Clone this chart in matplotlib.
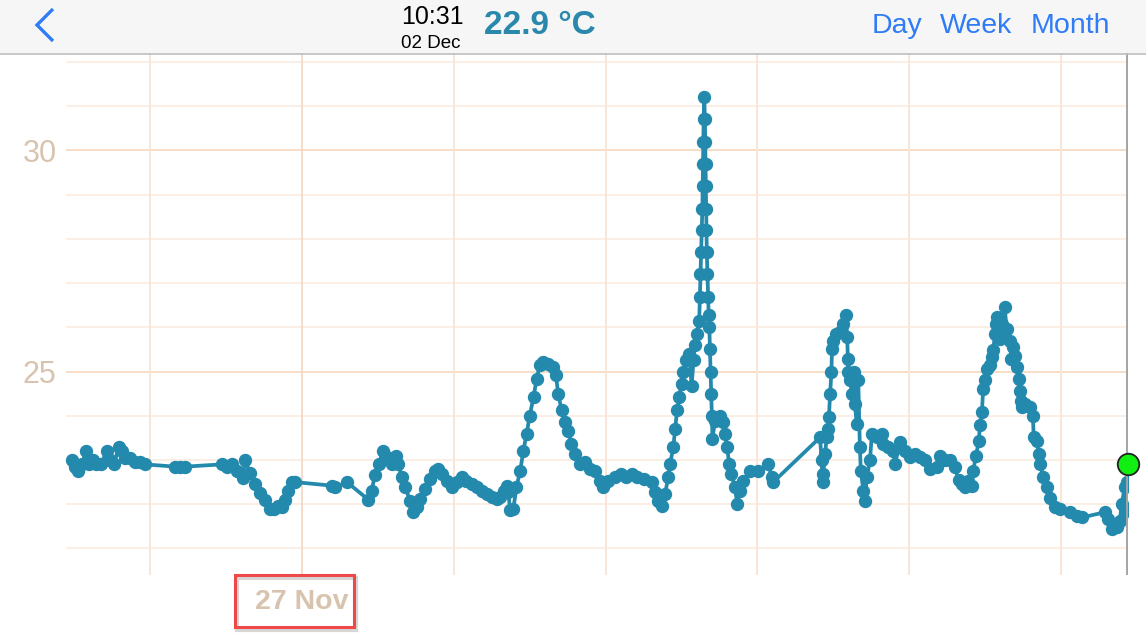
import matplotlib
matplotlib.use('Agg')
import matplotlib.pyplot as plt
from matplotlib.patches import Rectangle
from matplotlib.lines import Line2D

# hours since 25 Nov 00:00, temperature in degC
hours = [
    11.6, 12.1, 12.6, 13.2, 13.85, 14.3, 15.0, 15.5, 16.2, 17.1, 17.6, 18.3, 19.0, 19.5, 20.0,
    20.8, 21.6, 22.4, 23.2, 27.9, 28.7, 29.5, 35.3, 36.1, 36.9, 37.7, 38.6, 39.0, 39.8, 40.6,
    41.4, 42.1, 42.9, 43.5, 44.25, 44.9, 45.3, 45.8, 46.4, 46.9, 52.7, 53.2, 55.1, 58.5, 59.0,
    59.5, 60.1, 60.85, 61.5, 62.2, 62.9, 63.2, 63.8, 64.3, 65.1, 65.6, 66.1, 66.65, 67.4, 68.2,
    69.0, 69.55, 70.1, 70.9, 71.7, 72.45, 73.25, 74.0, 74.8, 75.6, 76.4, 77.2, 78.0, 78.8, 79.3,
    79.9, 80.45, 80.6, 80.9, 81.4, 81.9, 82.5, 83.0, 83.5, 84.0, 84.6, 85.1, 85.6, 86.15, 86.9,
    87.7, 88.15, 88.5, 89.05, 89.6, 90.1, 90.6, 91.2, 91.95, 92.7, 93.5, 94.3, 95.1, 95.6, 96.4,
    97.5, 98.5, 99.3, 100.1, 100.9, 102.0, 103.3, 103.8, 104.3, 104.9, 105.4, 105.9, 106.2, 106.7,
    107.0, 107.3, 107.65, 108.0, 108.3, 108.7, 109.2, 109.6, 109.9, 110.1, 110.4, 110.8, 110.9,
    111.0, 111.1, 111.2, 111.3, 111.35, 111.4, 111.45, 111.5, 111.6, 111.7, 111.75, 111.8, 111.85,
    111.9, 111.95, 112.0, 112.1, 112.2, 112.3, 112.4, 112.5, 112.6, 112.7, 112.8, 112.9, 113.3,
    114.1, 114.6, 114.9, 115.2, 115.55, 115.9, 116.45, 116.8, 117.25, 117.8, 118.8, 120.1, 121.7,
    122.3, 122.5, 129.9, 130.15, 130.3, 130.4, 130.7, 130.95, 131.2, 131.3, 131.5, 131.7, 131.8,
    132.0, 132.5, 133.05, 133.6, 134.0, 134.2, 134.3, 134.4, 134.7, 134.9, 135.2, 135.4, 135.7,
    135.95, 136.2, 136.35, 136.75, 137.0, 137.3, 137.8, 138.1, 138.85, 139.65, 139.9, 140.7, 141.5,
    141.75, 142.55, 143.3, 144.1, 144.9, 145.7, 146.5, 147.3, 148.35, 148.9, 149.65, 150.45, 151.2,
    151.8, 152.3, 152.8, 153.3, 153.9, 154.1, 154.6, 155.0, 155.2, 155.5, 155.7, 156.0, 156.25,
    156.8, 157.05, 157.3, 157.55, 157.8, 157.9, 158.35, 158.6, 159.1, 159.4, 159.9, 160.15, 160.4,
    160.7, 161.0, 161.3, 161.5, 161.7, 161.9, 162.3, 163.1, 163.55, 163.7, 164.2, 164.5, 164.7,
    165.2, 165.8, 166.3, 167.1, 167.9, 169.4, 170.5, 171.3, 174.95, 175.5, 176.0, 176.8, 177.3,
    177.6, 178.1, 178.3, 178.45,
]
temps = [
    23.0, 22.85, 22.75, 22.9, 23.2, 22.9, 23.0, 22.9, 22.9, 23.2, 23.0, 22.9, 23.3, 23.2, 23.05,
    23.05, 22.95, 22.95, 22.9, 22.85, 22.85, 22.85, 22.9, 22.85, 22.9, 22.75, 22.6, 23.0, 22.7, 22.45,
    22.25, 22.1, 21.9, 21.9, 21.95, 21.93, 22.1, 22.3, 22.5, 22.5, 22.42, 22.38, 22.5, 22.1, 22.3,
    22.65, 22.91, 23.2, 23.06, 22.91, 23.1, 22.91, 22.61, 22.38, 22.08, 21.82, 21.93, 22.12, 22.35, 22.57,
    22.76, 22.8, 22.68, 22.53, 22.4, 22.5, 22.61, 22.53, 22.46, 22.38, 22.31, 22.22, 22.17, 22.12, 22.17,
    22.31, 22.42, 22.27, 21.88, 21.89, 22.38, 22.76, 23.21, 23.59, 24.0, 24.42, 24.84, 25.14, 25.21, 25.17,
    25.1, 24.91, 24.5, 24.12, 23.85, 23.66, 23.36, 23.14, 22.91, 22.95, 22.8, 22.76, 22.53, 22.38, 22.53,
    22.61, 22.68, 22.61, 22.68, 22.61, 22.57, 22.5, 22.27, 22.08, 21.97, 22.23, 22.61, 22.91, 23.29,
    23.7, 24.12, 24.42, 24.72, 24.98, 25.25, 25.4, 24.68, 25.25, 25.59, 25.85, 26.15, 26.68,
    27.21, 27.7, 28.19, 28.68, 29.19, 29.68, 30.19, 30.7, 31.21, 30.7, 30.19, 29.68, 29.19,
    28.68, 28.19, 27.7, 27.21, 26.68, 26.27, 26.0, 25.51, 24.98, 24.5, 24.0, 23.48, 23.89,
    24.0, 23.85, 23.59, 23.29, 22.91, 22.68, 22.38, 22.01, 22.31, 22.53, 22.76, 22.76, 22.91,
    22.61, 22.5, 23.51, 23.0, 22.5, 22.68, 23.14, 23.51, 23.7, 23.98, 24.5, 24.98, 25.51,
    25.7, 25.85, 25.89, 26.08, 26.27, 25.78, 25.29, 24.98, 24.8, 24.5, 24.98, 24.27, 23.82,
    24.8, 23.29, 22.76, 22.31, 22.08, 22.61, 22.99, 23.59, 23.51, 23.59, 23.37, 23.29, 23.21,
    22.91, 23.4, 23.21, 23.06, 23.14, 23.06, 22.99, 22.8, 22.84, 23.1, 22.99, 22.99, 22.84,
    22.55, 22.46, 22.38, 22.53, 22.42, 22.76, 23.1, 23.44, 23.78, 24.08, 24.61, 24.8, 25.06,
    25.14, 25.32, 25.48, 25.85, 26.08, 26.23, 25.74, 26.08, 26.46, 25.97, 25.7, 25.29, 25.55,
    25.36, 25.1, 24.84, 24.57, 24.34, 24.19, 24.27, 24.19, 24.0, 23.51, 23.44, 23.14, 22.91,
    22.61, 22.38, 22.15, 21.93, 21.89, 21.82, 21.74, 21.7, 21.82, 21.67, 21.44, 21.48, 21.63,
    22.01, 22.38, 21.85, 22.5,
]

now_hour = 178.52          # 02 Dec 10:31
now_temp = 22.9
day_ticks = [24, 48, 72, 96, 120, 144, 168]
day_labels = {48: '27 Nov'}
temp_grid = list(range(21, 33))
temp_labels = [25, 30]

LINE = '#238aae'
BEIGE = '#d8c4ae'
BLUE = '#2f7cf6'

plt.rcParams['font.family'] = ['Liberation Sans', 'DejaVu Sans']

W, H = 1146, 643
fig = plt.figure(figsize=(W / 100, H / 100), dpi=100)
fig.patch.set_facecolor('white')

# plot area in pixels: x 65..1127.5, y 53..575
ax = fig.add_axes([65 / W, 1 - 575 / H, (1127.5 - 65) / W, (575 - 53) / H])
ax.set_xlim(now_hour - 168, now_hour)
ax.set_ylim(20.4, 32.2)
for s in ax.spines.values():
    s.set_visible(False)
ax.set_facecolor('white')

for t in temp_grid:
    c = '#f7dbc2' if t in temp_labels else '#fbede2'
    ax.axhline(t, color=c, lw=1.3, zorder=1, xmin=0.002)
for d in day_ticks:
    c = '#f6dcc8' if d in day_labels else '#f9e6d8'
    ax.axvline(d, color=c, lw=1.4, zorder=1)

ax.plot(hours, temps, '-o', color=LINE, lw=2.7, ms=8.6, mec=LINE, zorder=3)
ax.axvline(now_hour, color='#a4a4a4', lw=2.8, zorder=4)
ax.plot([now_hour], [now_temp], 'o', ms=15.5, mfc='#11ee11', mec='#222222', mew=1.3,
        zorder=5, clip_on=False)

ax.set_xticks([])
ax.set_yticks(temp_labels)
ax.set_yticklabels([str(v) for v in temp_labels], fontsize=22, color=BEIGE)
ax.tick_params(axis='y', length=0, pad=6)

for d, lab in day_labels.items():
    ax.text(d, -0.052, lab, transform=ax.get_xaxis_transform(), ha='center', va='center',
            fontsize=20.5, fontweight='bold', color=BEIGE)

# highlight box around the date label
fig.patches.append(Rectangle((237 / W, 1 - 630 / H), 119 / W, 52 / H, transform=fig.transFigure,
                             fill=False, ec='#cccccc', lw=3, alpha=0.8, zorder=9))
fig.patches.append(Rectangle((235 / W, 1 - 627 / H), 119 / W, 52 / H, transform=fig.transFigure,
                             fill=False, ec='#ef4848', lw=2.2, zorder=10))

# header bar
fig.patches.append(Rectangle((0, 1 - 53 / H), 1, 53 / H, transform=fig.transFigure,
                             fc='#f6f6f6', ec='none', zorder=0))
fig.lines.append(Line2D([0, 1], [1 - 53.5 / H] * 2, transform=fig.transFigure,
                        color='#bdbdbd', lw=1.2))
fig.lines.append(Line2D([53 / W, 37 / W, 53 / W], [1 - 9 / H, 1 - 25 / H, 1 - 41 / H],
                        transform=fig.transFigure, color=BLUE, lw=2.4,
                        solid_joinstyle='miter', solid_capstyle='butt'))
fig.text(432 / W, 1 - 17 / H, '10:31', ha='center', va='center', fontsize=18, color='black')
fig.text(431 / W, 1 - 43 / H, '02 Dec', ha='center', va='center', fontsize=13.5, color='black')
fig.text(484 / W, 1 - 26 / H, '22.9 °C', ha='left', va='center', fontsize=24,
         fontweight='bold', color='#2a88ad')
for lab, cx in [('Day', 897), ('Week', 976), ('Month', 1070)]:
    fig.text(cx / W, 1 - 26 / H, lab, ha='center', va='center', fontsize=20.5, color=BLUE)

fig.savefig('out.png', dpi=100)
